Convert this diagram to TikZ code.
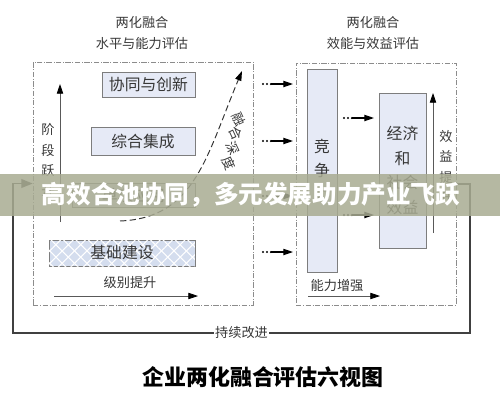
\documentclass[tikz,border=0pt]{standalone}
\usepackage{fontspec}
\setmainfont{Noto Sans CJK SC}
\usetikzlibrary{arrows.meta,positioning,patterns.meta}
\definecolor{boxfill}{RGB}{230,234,246}
\definecolor{basefill}{RGB}{212,221,238}
\definecolor{boxline}{RGB}{125,125,125}
\definecolor{frameline}{RGB}{140,140,140}
\definecolor{txt}{RGB}{55,55,55}
\definecolor{banner}{RGB}{168,171,146}
\tikzset{
  lbl/.style={text=txt, inner sep=1pt, font=\fontsize{7.5}{9}\selectfont},
  vlbl/.style={lbl, align=center, font=\fontsize{7.5}{11.4}\selectfont},
  frame/.style={draw=frameline, densely dashdotted, line width=0.4pt, inner sep=0pt},
  stage/.style={draw=boxline, fill=boxfill, line width=0.5pt, inner sep=0pt, text=txt,
    align=center, font=\fontsize{9}{13.5}\selectfont},
  axis/.style={draw=gray!70!black, line width=0.45pt, -{Triangle[length=5.5pt,width=3.6pt,color=black]}},
  dotline/.style={line width=1.4pt, line cap=round, dash pattern=on 0pt off 2.27pt},
  fbline/.style={draw=black!75, line width=0.7pt, -{Triangle[length=6.5pt,width=5pt]}}
}
\begin{document}
\begin{tikzpicture}[x=0.02cm,y=-0.02cm]
\useasboundingbox (0,0) rectangle (500,400);

\node[lbl] (lt1) at (142,22) {两化融合};
\node[lbl] (lt2) at (142,43) {水平与能力评估};
\node[lbl] (rt1) at (373,22) {两化融合};
\node[lbl] (rt2) at (373,43) {效能与效益评估};

\node[frame, minimum width=4.4cm, minimum height=4.86cm] (lframe) at (143,183.5) {};
\node[frame, minimum width=3.2cm, minimum height=4.84cm] (rframe) at (376,184) {};

\node[stage, minimum width=1.86cm, minimum height=0.5cm] (s4) at (148.5,84.5) {协同与创新};
\node[stage, minimum width=2.08cm, minimum height=0.56cm] (s3) at (143,141) {综合集成};
\node[stage, minimum width=2.46cm, minimum height=0.48cm] (s2) at (133.5,195) {单项应用};
\node[stage, fill=basefill, minimum width=2.92cm, minimum height=0.52cm,
  postaction={pattern={Lines[angle=45,distance=5pt,line width=0.6pt]}, pattern color=white},
  postaction={pattern={Lines[angle=-45,distance=5pt,line width=0.6pt]}, pattern color=white}] (s1) at (122,253) {};
\node[text=txt, font=\fontsize{9}{9}\selectfont] (s1t) at (s1) {基础建设};

\coordinate (lvb) at (60,222);
\coordinate (lvt) at (60,84);
\draw[axis] (lvb) -- (lvt);
\node[vlbl] (lv) at (48,160) {阶\\段\\跃\\升};

\node[lbl] (lh) at (130,283) {级别提升};
\coordinate (lha) at (54,296);
\coordinate (lhb) at (198,296);
\draw[axis] (lha) -- (lhb);

\coordinate (da) at (120,221);
\coordinate (db) at (242,71);
\draw[black!80, line width=0.55pt, dash pattern=on 3.6pt off 1.9pt,
  -{Triangle[length=5.5pt,width=3.6pt,color=black]}]
  (da) .. controls (195,218) and (206,157) .. (db);
\foreach \c/\x/\y [count=\i] in {融/239/119,合/236/133.5,深/233/148,度/229/163}
  \node[lbl, rotate=-65] (fd\i) at (\x,\y) {\c};

\foreach \y [count=\i] in {84,141,196,252}{
  \coordinate (ma\i) at (263,\y);
  \coordinate (mb\i) at (293,\y);
  \draw[dotline] (ma\i) -- ++(9,0);
  \draw[axis, draw=black, line width=0.6pt] ([xshift=0.16cm]ma\i) -- (mb\i);
}

\node[stage, minimum width=0.6cm, minimum height=4.06cm] (comp) at (322,170.5) {竞\\争\\力};
\node[stage, minimum width=0.94cm, minimum height=3.1cm, font=\fontsize{9}{14.2}\selectfont] (econ) at (402.5,170.5) {经济\\和\\社会\\效益};

\foreach \y [count=\i] in {118,215}{
  \coordinate (ra\i) at (344,\y);
  \coordinate (rb\i) at (374,\y);
  \draw[dotline] (ra\i) -- ++(9,0);
  \draw[axis, draw=black, line width=0.6pt] ([xshift=0.16cm]ra\i) -- (rb\i);
}

\coordinate (rvb) at (433,233);
\coordinate (rvt) at (433,93);
\draw[axis] (rvb) -- (rvt);
\node[vlbl, font=\fontsize{7.5}{11.6}\selectfont] (rv) at (446,167) {效\\益\\提\\升};

\node[lbl] (rh) at (337,286) {能力增强};
\coordinate (rha) at (308,296);
\coordinate (rhb) at (380,296);
\draw[axis] (rha) -- (rhb);

\coordinate (lp1) at (470,333);
\coordinate (lp2) at (13,333);
\draw[fbline] (rframe.east) -| (lp1) -- node[lbl, fill=white, inner sep=0.5pt] (keep) {持续改进} (lp2) |- (lframe.west);

\fill[banner, opacity=0.85] (0,174) rectangle (500,216);
\node[text=white, font=\bfseries\fontsize{14}{14}\selectfont] (ban) at (251,195) {高效合池协同，多元发展助力产业飞跃};

\node[font=\bfseries\fontsize{12.5}{12.5}\selectfont] (title) at (263,377) {企业两化融合评估六视图};
\end{tikzpicture}
\end{document}
